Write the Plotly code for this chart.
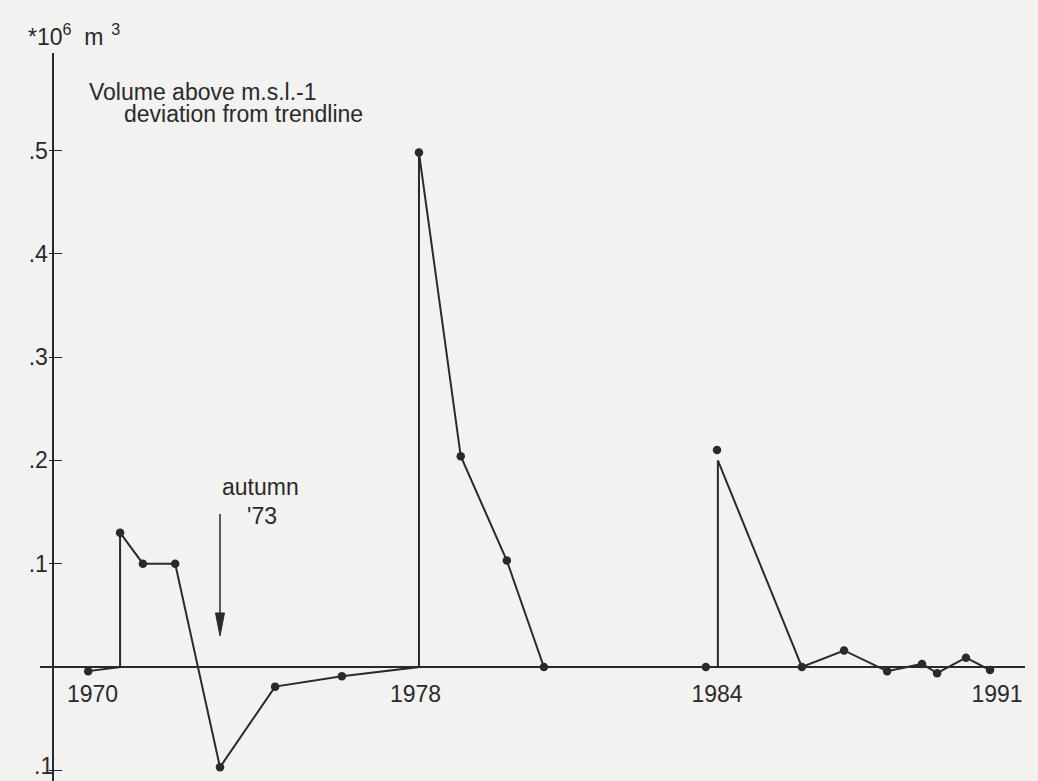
import plotly.graph_objects as go

# ---- data (decimal years along the chart's time axis, volume in 10^6 m^3) ----
line_x = [1969.90, 1970.64, 1970.64, 1971.17, 1971.92, 1972.96, 1974.24, 1975.79,
          1977.58, 1977.58, 1978.55, 1979.62, 1980.48, 1984.24, 1984.52, 1984.52,
          1986.47, 1987.45, 1988.45, 1989.26, 1989.61, 1990.28, 1990.84]
line_y = [-0.004, 0.0, 0.130, 0.100, 0.100, -0.097, -0.019, -0.009,
          0.0, 0.498, 0.204, 0.103, 0.0, 0.0, 0.0, 0.200,
          0.0, 0.016, -0.004, 0.003, -0.006, 0.009, -0.003]

survey_x = [1969.90, 1970.64, 1971.17, 1971.92, 1972.96, 1974.24, 1975.79, 1977.58,
            1978.55, 1979.62, 1980.48, 1984.24, 1984.50, 1986.47, 1987.45, 1988.45,
            1989.26, 1989.61, 1990.28, 1990.84]
survey_y = [-0.004, 0.130, 0.100, 0.100, -0.097, -0.019, -0.009, 0.498,
            0.204, 0.103, 0.0, 0.0, 0.210, 0.0, 0.016, -0.004,
            0.003, -0.006, 0.009, -0.003]

x_tick_vals = [1970, 1977.5, 1984.5, 1991]
x_tick_text = ["1970", "1978", "1984", "1991"]
y_tick_vals = [0.5, 0.4, 0.3, 0.2, 0.1, -0.1]
y_tick_text = [".5", ".4", ".3", ".2", ".1", ""]
y_low_tick_vals = [-0.1]
y_low_tick_text = [".1"]

event_x = 1972.96          # autumn '73
event_tip_y = 0.03

INK = "#2a2a2a"
PAPER = "#f2f2f0"
FONT = "Liberation Sans, Arial, Helvetica, sans-serif"

X_RANGE = [1968.781, 1991.651]
Y_RANGE = [-0.11036, 0.5944]

fig = go.Figure()
fig.add_trace(go.Scatter(x=line_x, y=line_y, mode="lines",
                         line=dict(color=INK, width=2.0), hoverinfo="skip",
                         showlegend=False))
fig.add_trace(go.Scatter(x=survey_x, y=survey_y, mode="markers",
                         marker=dict(color=INK, size=8.5), showlegend=False))
# invisible traces so the overlay axes (crossing ticks, lowest label) are rendered
fig.add_trace(go.Scatter(x=[X_RANGE[0]], y=[0], yaxis="y2", mode="markers",
                         marker=dict(opacity=0), hoverinfo="skip", showlegend=False))
fig.add_trace(go.Scatter(x=[X_RANGE[0]], y=[0], yaxis="y3", mode="markers",
                         marker=dict(opacity=0), hoverinfo="skip", showlegend=False))

fig.update_layout(
    width=1038, height=781,
    margin=dict(l=40, r=13, t=53, b=0, autoexpand=False),
    paper_bgcolor=PAPER, plot_bgcolor=PAPER,
    font=dict(family=FONT, size=23, color=INK),
    xaxis=dict(range=X_RANGE, anchor="free", position=0.1566,
               showline=False, showgrid=False, zeroline=False,
               ticks="", tickvals=x_tick_vals, ticktext=x_tick_text,
               tickfont=dict(size=23, color=INK), ticklabelstandoff=11,
               automargin=False),
    yaxis=dict(range=Y_RANGE, anchor="free", position=0.0135,
               showline=True, linecolor=INK, linewidth=1.6,
               showgrid=False, zeroline=True, zerolinecolor=INK, zerolinewidth=1.6,
               ticks="inside", ticklen=8, tickwidth=1.4, tickcolor=INK,
               tickvals=y_tick_vals, ticktext=y_tick_text,
               tickfont=dict(size=23, color=INK), automargin=False),
    yaxis2=dict(range=Y_RANGE, overlaying="y", anchor="free", position=0.0135,
                showline=False, showgrid=False, zeroline=False,
                ticks="outside", ticklen=4, tickwidth=1.4, tickcolor=INK,
                tickvals=y_tick_vals, showticklabels=False, automargin=False),
    yaxis3=dict(range=Y_RANGE, overlaying="y", anchor="free", position=0.0135,
                showline=False, showgrid=False, zeroline=False,
                ticks="inside", ticklen=8, tickwidth=1.4, tickcolor=INK,
                tickvals=y_low_tick_vals, ticktext=y_low_tick_text,
                ticklabelshift=-4, ticklabeloverflow="allow",
                tickfont=dict(size=23, color=INK), automargin=False),
)

# texts
fig.add_annotation(xref="paper", yref="paper", x=-0.0142, y=1.0247,
                   xanchor="left", yanchor="middle", showarrow=False,
                   text="*10<sup>6</sup>\u00a0 m<sup>\u2009\u00a03</sup>",
                   font=dict(size=23, color=INK))
fig.add_annotation(xref="paper", yref="paper", x=0.0477, y=0.9465,
                   xanchor="left", yanchor="middle", showarrow=False,
                   text="Volume above m.s.l.-1", font=dict(size=23, color=INK))
fig.add_annotation(xref="paper", yref="paper", x=0.0832, y=0.9163,
                   xanchor="left", yanchor="middle", showarrow=False,
                   text="deviation from trendline", font=dict(size=23, color=INK))
fig.add_annotation(xref="paper", yref="paper", x=0.2234, y=0.4038,
                   xanchor="center", yanchor="middle", showarrow=False,
                   text="autumn", font=dict(size=23, color=INK))
fig.add_annotation(xref="paper", yref="paper", x=0.2255, y=0.364,
                   xanchor="center", yanchor="middle", showarrow=False,
                   text="'73", font=dict(size=23, color=INK))

# arrow (shaft + narrow filled head), sized in pixels from the tip
fig.add_shape(type="line", xref="x", yref="y", xsizemode="pixel", ysizemode="pixel",
              xanchor=event_x, yanchor=event_tip_y, x0=0, x1=0, y0=20, y1=122,
              line=dict(color=INK, width=1.5))
fig.add_shape(type="path", xref="x", yref="y", xsizemode="pixel", ysizemode="pixel",
              xanchor=event_x, yanchor=event_tip_y,
              path="M -4.5,23 L 4.5,23 L 0,0 Z",
              fillcolor=INK, line=dict(color=INK, width=1))

fig.write_html("out.html", config={"displayModeBar": False},
               post_script="document.body.style.margin='0';")
